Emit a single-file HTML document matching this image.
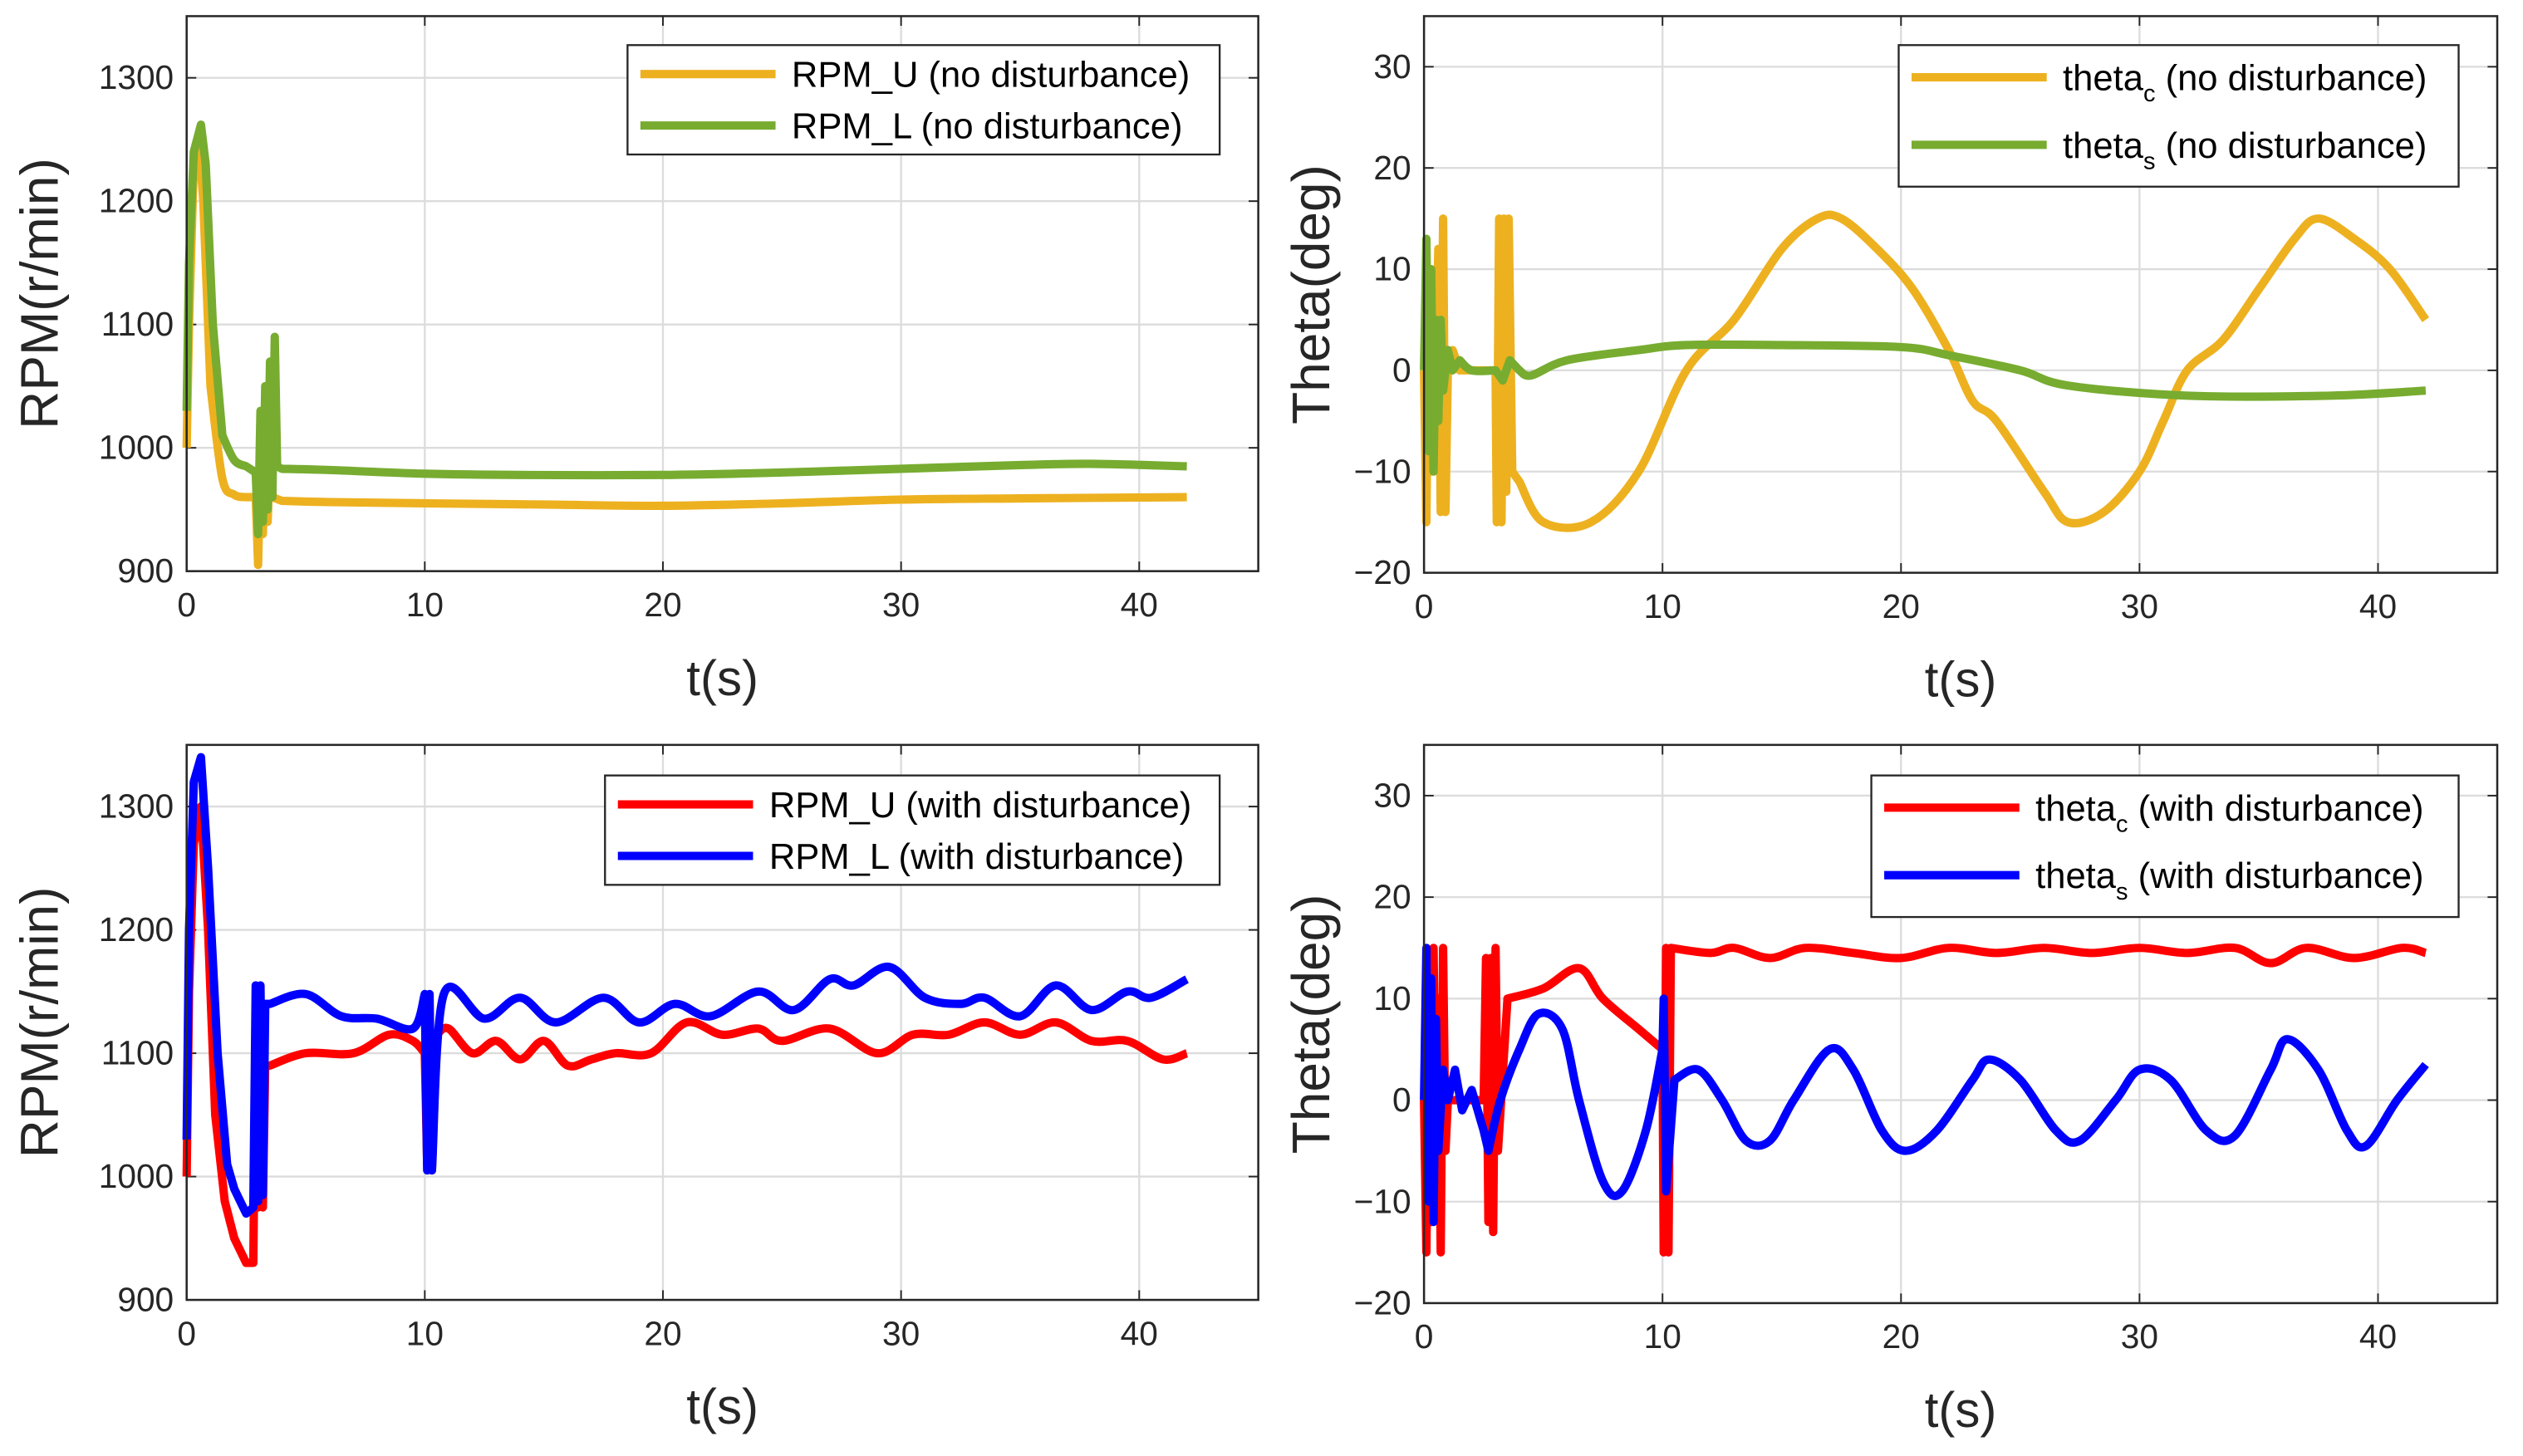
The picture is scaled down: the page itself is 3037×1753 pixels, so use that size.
<!DOCTYPE html>
<html><head><meta charset="utf-8"><style>
html,body{margin:0;padding:0;background:#fff}
svg{display:block;font-family:"Liberation Sans",sans-serif}
</style></head><body>
<svg id="c" width="3037" height="1753" viewBox="0 0 1568 905" xmlns="http://www.w3.org/2000/svg"></svg>
<script>
// ---- data ----
const tl_t_u=[0,0.1,0.3,0.5,0.7,1.0,1.5,2.0,2.5,2.9,3.0,3.1,3.2,3.3,3.4,3.5,3.6,4,6,10,15,20,25,30,35,42];
const tl_v_u=[1000,1100,1230,1250,1200,1050,975,962,960,960,905,990,930,1000,940,990,960,957,956,955,954,953,955,958,959,960];
const tl_t_l=[0,0.1,0.3,0.6,0.8,1.1,1.5,2,2.5,2.9,3.0,3.1,3.2,3.3,3.4,3.5,3.6,3.7,3.8,4,6,10,14,20,25,30,35,38,42];
const tl_v_l=[1030,1150,1240,1262,1230,1100,1010,990,985,980,930,1030,940,1050,950,1070,960,1090,985,983,982,979,978,978,980,983,986,987,985];
const tr_t_c=[0,0.1,0.2,0.3,0.4,0.5,0.6,0.7,0.8,0.9,1.0,1.2,1.5,2,2.5,3.0,3.05,3.15,3.25,3.35,3.45,3.55,3.7,4,5,7,9,11,13,15,16.5,17.5,19,20.5,22,23,24,26,27,28.5,30,31,32,33.5,35,36.5,37.5,39,40.5,42];
const tr_v_c=[0,-15,10,-10,5,0,12,-14,15,-14,0,2,0,0,0,0,-15,15,-15,15,-12,15,-10,-11,-15,-15,-10,0,5,12,15,15,12,8,2,-3,-5,-12,-15,-14,-10,-5,0,3,8,13,15,13,10,5];
const tr_t_s=[0,0.1,0.2,0.3,0.4,0.5,0.6,0.7,0.8,1.0,1.2,1.5,2,3,3.3,3.6,4,4.5,6,9,11,15,20,22,25,27,32,38,42];
const tr_v_s=[0,13,-8,10,-10,5,-5,5,-2,2,0,1,0,0,-1,1,0,-0.5,1,2,2.5,2.5,2.3,1.5,0,-1.5,-2.5,-2.5,-2];
const bl_t_u=[0,0.1,0.3,0.6,0.9,1.2,1.6,2,2.5,2.8,2.9,3.0,3.1,3.2,3.3,3.5,5,7,8.5,9.5,10,10.1,10.2,10.3,10.5,11,12,13,14,15,16,17,18,19.5,21,22.5,24,25,27,29,30.5,32,33.5,35,36.5,38,39.5,41,42];
const bl_v_u=[1000,1150,1270,1300,1200,1050,980,950,930,930,1130,975,1130,975,1090,1090,1100,1100,1115,1110,1100,1010,1120,1005,1115,1120,1100,1110,1095,1110,1090,1095,1100,1100,1125,1115,1120,1110,1120,1100,1115,1115,1125,1115,1125,1110,1110,1095,1100];
const bl_t_l=[0,0.1,0.3,0.6,0.9,1.3,1.7,2,2.5,2.8,2.9,3.0,3.1,3.2,3.3,3.5,5,6.5,8,9.5,10,10.1,10.2,10.3,10.8,12.5,14,15.5,17.5,19,20.5,22,24,25.5,27,28,29.5,31,32.5,33.5,35,36.5,38,39.5,40.5,42];
const bl_v_l=[1030,1200,1320,1340,1250,1100,1010,990,970,975,1155,980,1155,985,1140,1140,1148,1130,1128,1120,1148,1005,1148,1005,1148,1128,1145,1125,1145,1125,1140,1130,1150,1135,1160,1155,1170,1145,1140,1145,1130,1155,1135,1150,1145,1160];
const br_t_c=[0,0.1,0.2,0.3,0.4,0.5,0.6,0.7,0.8,0.9,1.0,1.5,2,2.5,2.6,2.7,2.8,2.9,3.0,3.1,3.5,5,6.5,7.5,9,10,10.05,10.15,10.25,10.35,12,13,14.5,16,18,20,22,24,26,28,30,32,34,35.5,37,39,41,42];
const br_v_c=[0,-15,12,-12,15,-5,10,-15,15,-5,0,0,0,0,14,-12,14,-13,15,-5,10,11,13,10,7,5,-15,15,-15,15,14.5,15,14,15,14.5,14,15,14.5,15,14.5,15,14.5,15,13.5,15,14,15,14.5];
const br_t_s=[0,0.1,0.2,0.3,0.4,0.5,0.6,0.8,1,1.3,1.6,2,2.5,2.7,3.2,4,4.8,5.8,6.5,7.5,8.3,9.3,10,10.05,10.15,10.5,11.5,12.5,13.5,14.5,15.5,17,18,19.2,20.2,21.5,23,23.7,25,26.5,27.5,29,30,31.3,32.8,34,35.5,36.2,37.5,38.7,39.5,40.8,42];
const br_v_s=[0,15,-10,12,-12,8,-5,3,0,3,-1,1,-3,-5,0,5,8.5,7,0,-8,-9,-3,5,10,-9,2,3,0,-4,-4,0,5,3,-3,-5,-3,2,4,2,-3,-4,0,3,2,-3,-3.5,3,6,3,-3,-4.5,0,3.5];
const xTicks=[0,10,20,30,40];
const rpmTicks=[900,1000,1100,1200,1300];
const thTicks=[-20,-10,0,10,20,30];

const NS="http://www.w3.org/2000/svg";
const svg=document.getElementById('c');
function el(tag,attrs,parent,txt){const e=document.createElementNS(NS,tag);for(const k in attrs)e.setAttribute(k,attrs[k]);if(txt!==undefined)e.textContent=txt;(parent||svg).appendChild(e);return e;}

function smoothPath(pts){
  let d='M'+pts[0][0].toFixed(2)+' '+pts[0][1].toFixed(2);
  const n=pts.length;
  for(let i=0;i<n-1;i++){
    let p0=pts[Math.max(0,i-1)],p1=pts[i],p2=pts[i+1],p3=pts[Math.min(n-1,i+2)];
    const dx=p2[0]-p1[0];
    if(dx<6){d+=' L'+p2[0].toFixed(2)+' '+p2[1].toFixed(2);continue;}
    if(p1[0]-p0[0]<6) p0=p1;
    if(p3[0]-p2[0]<6) p3=p2;
    const k=1/6;
    const c1=[p1[0]+(p2[0]-p0[0])*k,p1[1]+(p2[1]-p0[1])*k];
    const c2=[p2[0]-(p3[0]-p1[0])*k,p2[1]-(p3[1]-p1[1])*k];
    c1[0]=Math.min(Math.max(c1[0],p1[0]),p2[0]);c2[0]=Math.min(Math.max(c2[0],p1[0]),p2[0]);
    d+=' C'+c1[0].toFixed(2)+' '+c1[1].toFixed(2)+' '+c2[0].toFixed(2)+' '+c2[1].toFixed(2)+' '+p2[0].toFixed(2)+' '+p2[1].toFixed(2);
  }
  return d;
}

function panel(name,x0,x1,y0,y1,ymin,ymax,yTicks,ylabel,ylx,series,legend){
  const g=el('g',{});
  
  
  const X=t=>x0+(t/45)*(x1-x0);
  const Y=v=>y1-(v-ymin)/(ymax-ymin)*(y1-y0);
  xTicks.forEach(t=>{
    const l=el('line',{x1:X(t),x2:X(t),y1:y0,y2:y1,stroke:'#dcdcdc','stroke-width':1.2},g);
    
    
    const tx=el('text',{x:X(t),y:y1+28,'text-anchor':'middle','font-size':21,fill:'#262626'},g,String(t));
    
    
    el('line',{x1:X(t),x2:X(t),y1:y1,y2:y1-6,stroke:'#262626','stroke-width':1},g);
    el('line',{x1:X(t),x2:X(t),y1:y0,y2:y0+6,stroke:'#262626','stroke-width':1},g);
  });
  yTicks.forEach(v=>{
    const l=el('line',{x1:x0,x2:x1,y1:Y(v),y2:Y(v),stroke:'#dcdcdc','stroke-width':1.2},g);
    
    
    const tx=el('text',{x:x0-8,y:Y(v)+7,'text-anchor':'end','font-size':21,fill:'#262626'},g,v<0?'\u2212'+(-v):String(v));
    
    
    el('line',{x1:x0,x2:x0+6,y1:Y(v),y2:Y(v),stroke:'#262626','stroke-width':1},g);
    el('line',{x1:x1,x2:x1-6,y1:Y(v),y2:Y(v),stroke:'#262626','stroke-width':1},g);
  });
  series.forEach(s=>{
    const pts=s.t.map((t,i)=>[X(t),Y(s.v[i])]);
    const p=el('path',{d:smoothPath(pts),fill:'none',stroke:s.color,'stroke-width':5.2,'stroke-linejoin':'round'},g);
    
    
  });
  const box=el('rect',{x:x0,y:y0,width:x1-x0,height:y1-y0,fill:'none',stroke:'#262626','stroke-width':1.3},g);
  
  
  const xl=el('text',{x:(x0+x1)/2,y:y1+77,'text-anchor':'middle','font-size':31,fill:'#262626'},g,'t(s)');
  
  
  const yy=(y0+y1)/2;
  const yl=el('text',{x:ylx,y:yy,'text-anchor':'middle','font-size':33,fill:'#262626',transform:`rotate(-90 ${ylx} ${yy})`},g,ylabel);
  
  
  const lg=el('g',{},g);
  
  
  el('rect',{x:legend.x,y:legend.y,width:legend.w,height:legend.h,fill:'#fff',stroke:'#262626','stroke-width':1.2},lg);
  legend.items.forEach((it,i)=>{
    const cy=legend.y+legend.pad+i*legend.step;
    el('line',{x1:legend.x+8,x2:legend.x+92,y1:cy,y2:cy,stroke:it.color,'stroke-width':5.2},lg);
    const t=el('text',{x:legend.x+102,y:cy+8,'font-size':22.5,fill:'#000'},lg);
    
    
    if(it.sub){
      el('tspan',{},t,it.base);
      el('tspan',{'font-size':15,dy:7},t,it.sub);
      el('tspan',{dy:-7},t,' '+it.rest);
    } else t.textContent=it.base;
  });
}
const Y='#EDB120',G='#77AC30',R='#FF0000',B='#0000FF';
panel('rpm-no-disturbance',116,782,10,355,900,1350,rpmTicks,'RPM(r/min)',36,
 [{t:tl_t_u,v:tl_v_u,color:Y,name:'rpm-u-line'},{t:tl_t_l,v:tl_v_l,color:G,name:'rpm-l-line'}],
 {x:390,y:28,w:368,h:68,pad:18,step:32,items:[{base:'RPM_U (no disturbance)',color:Y},{base:'RPM_L (no disturbance)',color:G}]});
panel('theta-no-disturbance',885,1552,10,356,-20,35,thTicks,'Theta(deg)',826,
 [{t:tr_t_c,v:tr_v_c,color:Y,name:'theta-c-line'},{t:tr_t_s,v:tr_v_s,color:G,name:'theta-s-line'}],
 {x:1180,y:28,w:348,h:88,pad:20,step:42,items:[{base:'theta',sub:'c',rest:'(no disturbance)',color:Y},{base:'theta',sub:'s',rest:'(no disturbance)',color:G}]});
panel('rpm-with-disturbance',116,782,463,808,900,1350,rpmTicks,'RPM(r/min)',36,
 [{t:bl_t_u,v:bl_v_u,color:R,name:'rpm-u-line'},{t:bl_t_l,v:bl_v_l,color:B,name:'rpm-l-line'}],
 {x:376,y:482,w:382,h:68,pad:18,step:32,items:[{base:'RPM_U (with disturbance)',color:R},{base:'RPM_L (with disturbance)',color:B}]});
panel('theta-with-disturbance',885,1552,463,810,-20,35,thTicks,'Theta(deg)',826,
 [{t:br_t_c,v:br_v_c,color:R,name:'theta-c-line'},{t:br_t_s,v:br_v_s,color:B,name:'theta-s-line'}],
 {x:1163,y:482,w:365,h:88,pad:20,step:42,items:[{base:'theta',sub:'c',rest:'(with disturbance)',color:R},{base:'theta',sub:'s',rest:'(with disturbance)',color:B}]});
</script>
</body></html>
